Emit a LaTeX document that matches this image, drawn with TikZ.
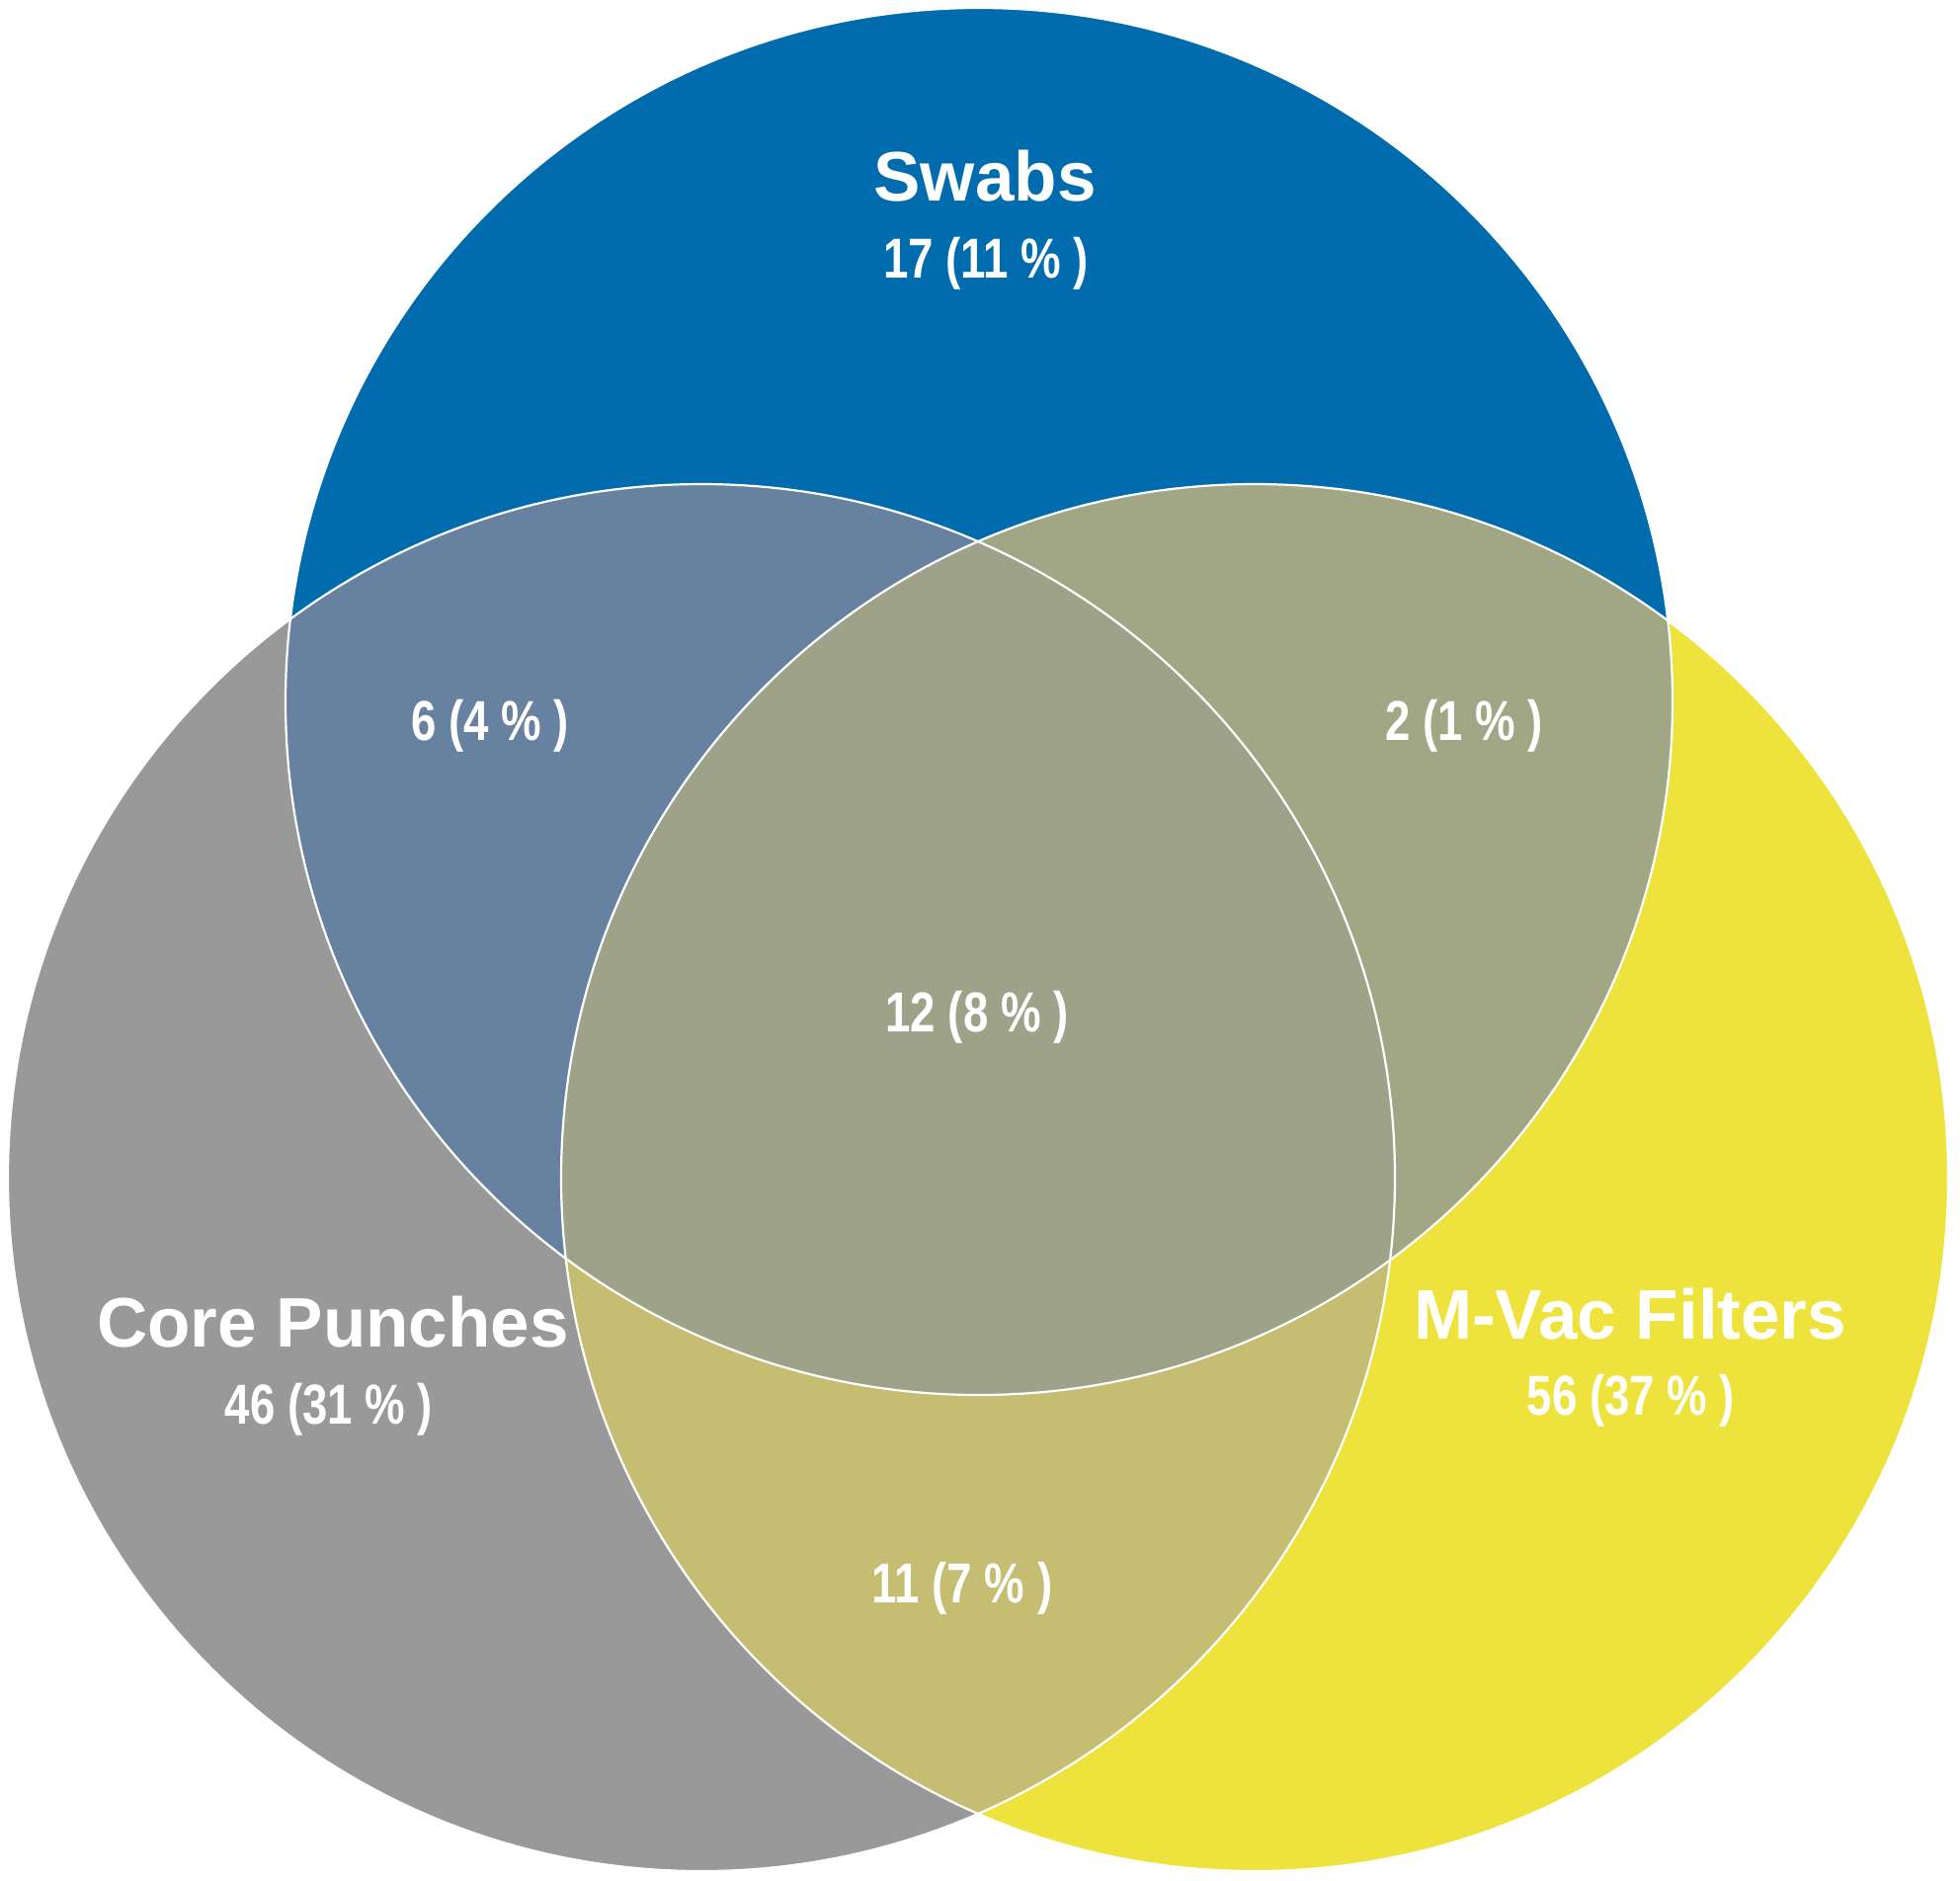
\documentclass[tikz,border=0pt]{standalone}
\usepackage{fontspec}
\setmainfont{Liberation Sans}
\newfontfamily\narrowfont[FakeStretch=0.8]{Liberation Sans}
\definecolor{cblue}{RGB}{0,108,173}
\definecolor{cgrey}{RGB}{153,153,153}
\definecolor{cyellow}{RGB}{237,227,60}
\definecolor{cbg}{RGB}{103,129,161}
\definecolor{cby}{RGB}{161,167,133}
\definecolor{cgy}{RGB}{196,189,114}
\definecolor{call}{RGB}{158,162,137}
\tikzset{
  title/.style={text=white, font=\bfseries\fontsize{35.5}{40}\selectfont, inner sep=0pt},
  count/.style={text=white, font=\narrowfont\bfseries\fontsize{28.5}{32}\selectfont, inner sep=0pt},
  outline/.style={draw=white, line width=1.1pt}
}
\begin{document}
\begin{tikzpicture}[x=0.5pt,y=-0.5pt]
\useasboundingbox (0,0) rectangle (1984,1903);
\coordinate (cs) at (991,710);
\coordinate (cc) at (710,1192);
\coordinate (cm) at (1270,1192);
\def\rad{351pt}
% base circles
\fill[cblue] (cs) circle[radius=\rad];
\fill[cgrey] (cc) circle[radius=\rad];
\fill[cyellow] (cm) circle[radius=\rad];
% pairwise overlaps
\begin{scope}
  \clip (cs) circle[radius=\rad];
  \fill[cbg] (cc) circle[radius=\rad];
  \fill[cby] (cm) circle[radius=\rad];
\end{scope}
\begin{scope}
  \clip (cc) circle[radius=\rad];
  \fill[cgy] (cm) circle[radius=\rad];
\end{scope}
% triple overlap
\begin{scope}
  \clip (cs) circle[radius=\rad];
  \clip (cc) circle[radius=\rad];
  \fill[call] (cm) circle[radius=\rad];
\end{scope}
% outlines
\draw[outline] (cs) circle[radius=\rad];
\draw[outline] (cc) circle[radius=\rad];
\draw[outline] (cm) circle[radius=\rad];
% labels
\node[title] (tswabs) at (997,178) {Swabs};
\node[count] (nswabs) at (998,267) {17 (11 \% )};
\node[count] (nsc) at (496,735) {6 (4 \% )};
\node[count] (nsm) at (1482,735) {2 (1 \% )};
\node[count] (nall) at (989,1030) {12 (8 \% )};
\node[title] (tcore) at (337,1338) {Core Punches};
\node[count] (ncore) at (333,1427) {46 (31 \% )};
\node[title] (tmvac) at (1650,1330) {M-Vac Filters};
\node[count] (nmvac) at (1651,1418) {56 (37 \% )};
\node[count] (ncm) at (974,1608) {11 (7 \% )};
\end{tikzpicture}
\end{document}
